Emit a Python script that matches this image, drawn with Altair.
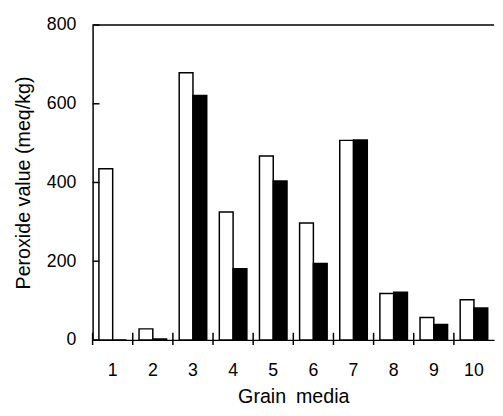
import altair as alt
import pandas as pd

media = ["1", "2", "3", "4", "5", "6", "7", "8", "9", "10"]
series_names = ["Series 1", "Series 2"]
white_values = [435, 28, 679, 325, 467, 297, 507, 118, 57, 102]
black_values = [0, 2, 621, 181, 404, 194, 508, 121, 39, 81]
y_ticks = [0, 200, 400, 600, 800]

W = 408
H = 320
FONT = "Liberation Sans"

rows = []
for m, a, b in zip(media, white_values, black_values):
    rows.append({"media": m, "series": series_names[0], "value": a})
    rows.append({"media": m, "series": series_names[1], "value": b})
df = pd.DataFrame(rows)

x_scale = alt.Scale(paddingInner=0, paddingOuter=0)
y_scale = alt.Scale(domain=[0, 800], nice=False)

x_enc = alt.X(
    "media:O",
    sort=media,
    scale=x_scale,
    axis=alt.Axis(
        title="Grain\u2002media",
        labelAngle=0,
        ticks=False,
        labelPadding=22,
        titlePadding=8,
        labelFontSize=18,
        titleFontSize=20,
        labelFont=FONT,
        titleFont=FONT,
        titleFontWeight="normal",
        labelColor="black",
        titleColor="black",
        domainColor="black",
        domainWidth=1.5,
        grid=False,
    ),
)
y_enc = alt.Y(
    "value:Q",
    scale=y_scale,
    axis=alt.Axis(
        title="Peroxide value (meq/kg)",
        values=y_ticks,
        ticks=False,
        labelPadding=17,
        titlePadding=13,
        labelFontSize=18,
        titleFontSize=20,
        labelFont=FONT,
        titleFont=FONT,
        titleFontWeight="normal",
        labelColor="black",
        titleColor="black",
        domainColor="black",
        domainWidth=1.5,
        grid=False,
    ),
)

bars = alt.Chart(df).mark_bar(stroke="black", strokeWidth=1.5).encode(
    x=x_enc,
    xOffset=alt.XOffset(
        "series:N",
        sort=series_names,
        scale=alt.Scale(paddingOuter=0.457, paddingInner=0),
    ),
    y=y_enc,
    fill=alt.Fill(
        "series:N",
        scale=alt.Scale(domain=series_names, range=["white", "black"]),
        legend=None,
    ),
)

# x ticks at the group boundaries, crossing the axis line
x_ticks = alt.Chart(pd.DataFrame({"media": media})).mark_rule(
    color="black", strokeWidth=1.5
).encode(
    x=alt.X("media:O", sort=media, bandPosition=0),
    y=alt.datum(-13),
    y2=alt.datum(18),
)

# inward y ticks
y_tick_marks = alt.Chart(pd.DataFrame({"value": y_ticks})).mark_rule(
    color="black", strokeWidth=1.5
).encode(
    y=alt.Y("value:Q"),
    x=alt.value(0),
    x2=alt.value(7),
)

top_line = alt.Chart(pd.DataFrame({"value": [800]})).mark_rule(
    color="black", strokeWidth=1.5
).encode(
    y=alt.Y("value:Q"),
    x=alt.value(0),
    x2=alt.value(W),
)

chart = (
    alt.layer(bars, x_ticks, y_tick_marks, top_line)
    .properties(
        width=W,
        height=H,
        padding={"left": 5, "top": 5, "right": 0, "bottom": 5},
        background="white",
    )
    .configure_view(stroke=None)
)

chart.save("out.html", embed_options={"renderer": "svg", "actions": False})
